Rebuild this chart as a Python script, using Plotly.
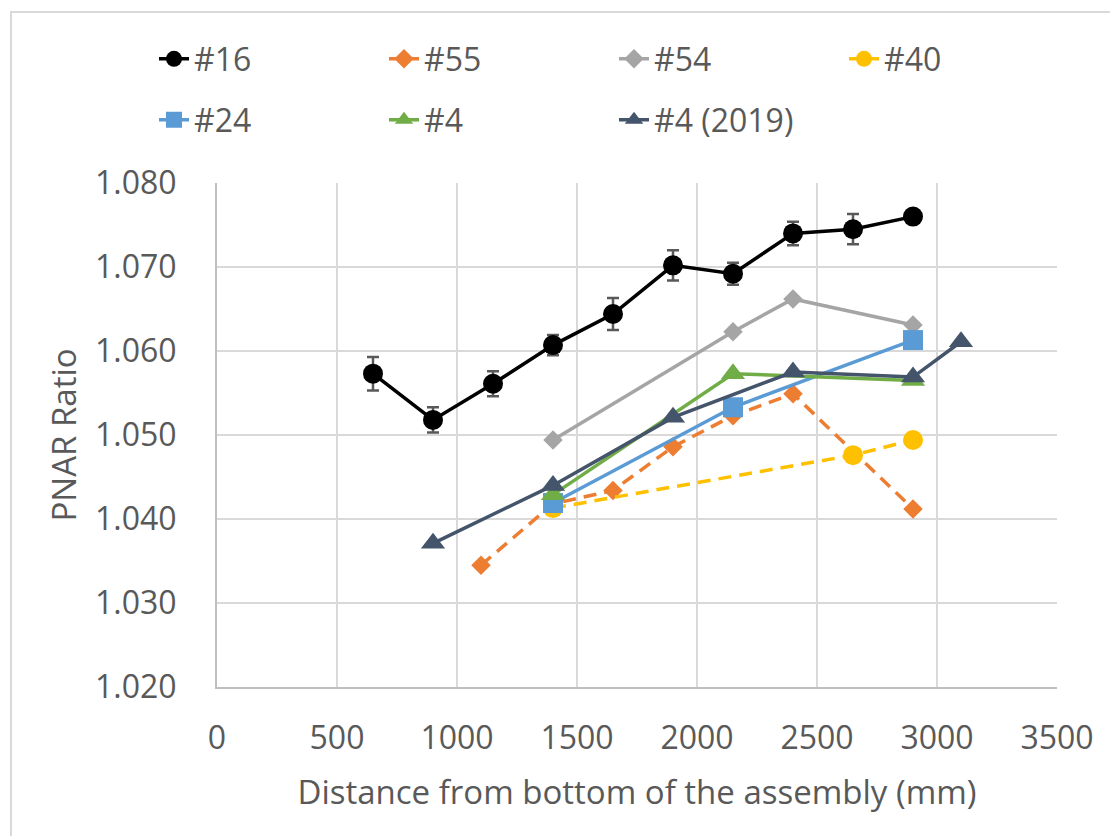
import plotly.graph_objects as go

# ---- data ----
x16 = [650, 900, 1150, 1400, 1650, 1900, 2150, 2400, 2650, 2900]
y16 = [1.0573, 1.0518, 1.0561, 1.0607, 1.0644, 1.0702, 1.0692, 1.0740, 1.0745, 1.0760]
e16 = [0.0020, 0.0015, 0.0015, 0.0012, 0.0019, 0.0018, 0.0013, 0.0014, 0.0018, 0.0005]

x55 = [1100, 1400, 1650, 1900, 2150, 2400, 2900]
y55 = [1.0345, 1.0418, 1.0434, 1.0486, 1.0523, 1.0549, 1.0412]

x54 = [1400, 2150, 2400, 2900]
y54 = [1.0494, 1.0623, 1.0662, 1.0631]

x40 = [1400, 2650, 2900]
y40 = [1.0413, 1.0476, 1.0494]

x24 = [1400, 2150, 2900]
y24 = [1.0419, 1.0533, 1.0613]

x4 = [1400, 2150, 2900]
y4 = [1.0429, 1.0573, 1.0565]

x4_2019 = [900, 1400, 1900, 2400, 2900, 3100]
y4_2019 = [1.0371, 1.0440, 1.0521, 1.0575, 1.0569, 1.0611]

x_ticks = [0, 500, 1000, 1500, 2000, 2500, 3000, 3500]
y_ticks = [1.020, 1.030, 1.040, 1.050, 1.060, 1.070, 1.080]

FONT = "Open Sans"
TXT = "#595959"
FS = 33
TFS = 32
LFS = 32

fig = go.Figure()

def add(name, x, y, color, symbol, msize, dash="solid", legend="legend", err=None):
    kw = {}
    if err is not None:
        kw["error_y"] = dict(type="data", array=err, visible=True,
                             color="#595959", thickness=2.5, width=6)
    fig.add_trace(go.Scatter(
        x=x, y=y, name=name, mode="lines+markers",
        line=dict(color=color, width=3.5, dash=dash),
        marker=dict(symbol=symbol, size=msize, color=color),
        legend=legend, **kw))

add("#16", x16, y16, "#000000", "circle", 20, err=e16)
add("#55", x55, y55, "#ED7D31", "diamond", 15, dash="13px,8px")
add("#54", x54, y54, "#A5A5A5", "diamond", 15)
add("#40", x40, y40, "#FFC000", "circle", 20, dash="13px,8px")
add("#24", x24, y24, "#5B9BD5", "square", 20, legend="legend2")
add("#4", x4, y4, "#70AD47", "triangle-up", 21, legend="legend2")
add("#4 (2019)", x4_2019, y4_2019, "#44546A", "triangle-up", 21, legend="legend2")

W, H = 1110, 836
L, R, T, B = 217, 1057, 183, 687

def px(x):
    return (x - L) / (R - L)

def py(y):
    return (B - y) / (B - T)

legend_common = dict(orientation="h", xanchor="left", yanchor="middle",
                     font=dict(family=FONT, size=LFS, color=TXT),
                     entrywidth=185, entrywidthmode="pixels",
                     bgcolor="rgba(0,0,0,0)", itemclick=False)

fig.update_layout(
    width=W, height=H,
    margin=dict(l=L, r=W - R, t=T, b=H - B, pad=0),
    paper_bgcolor="white", plot_bgcolor="white",
    font=dict(family=FONT, size=FS, color=TXT),
    showlegend=True,
    legend=dict(x=px(154), y=py(59), **legend_common),
    legend2=dict(x=px(154), y=py(120), **legend_common),
    xaxis=dict(range=[0, 3500], tickvals=x_ticks, ticktext=[str(v) for v in x_ticks],
               showgrid=True, gridcolor="#D9D9D9", gridwidth=2,
               showline=True, linecolor="#BFBFBF", linewidth=2,
               zeroline=False, ticks="", ticklabelstandoff=22,
               tickfont=dict(family=FONT, size=TFS, color=TXT),
               title=dict(text="Distance from bottom of the assembly (mm)",
                          font=dict(family=FONT, size=FS, color=TXT), standoff=23)),
    yaxis=dict(range=[1.020, 1.080], tickvals=y_ticks,
               ticktext=["%.3f" % v for v in y_ticks],
               showgrid=True, gridcolor="#D9D9D9", gridwidth=2,
               showline=True, linecolor="#BFBFBF", linewidth=2,
               zeroline=False, ticks="", ticklabelstandoff=32,
               tickfont=dict(family=FONT, size=TFS, color=TXT),
               title=dict(text="PNAR Ratio",
                          font=dict(family=FONT, size=FS, color=TXT), standoff=8)),
    shapes=[dict(type="rect", xref="paper", yref="paper",
                 x0=px(11), x1=px(1120), y0=py(845), y1=py(12),
                 line=dict(color="#D9D9D9", width=2), layer="below")],
)

fig.write_html("out.html")
